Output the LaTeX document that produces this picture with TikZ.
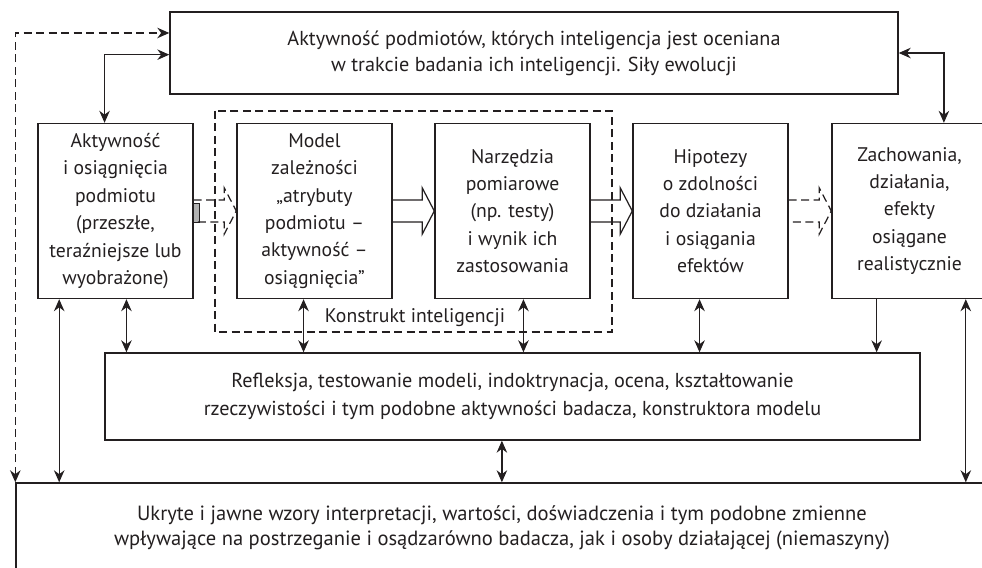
\documentclass[tikz,border=0pt]{standalone}
\usepackage{fontspec}
\setmainfont{PT Sans}
\usetikzlibrary{arrows.meta, calc, positioning}
\definecolor{inkgray}{HTML}{231F20}
\tikzset{
  box/.style={draw=inkgray, line width=0.8pt, minimum width=31mm, minimum height=35mm,
    align=center, inner sep=0pt, text=inkgray, font=\fontsize{11.2}{15.6}\selectfont},
  widebox/.style={draw=inkgray, line width=0.8pt, align=center, inner sep=0pt,
    text=inkgray},
  conn/.style={draw=inkgray, line width=0.7pt,
    {Stealth[length=2.4mm,width=2.1mm]}-{Stealth[length=2.4mm,width=2.1mm]}},
  oneway/.style={draw=inkgray, line width=0.7pt, -{Stealth[length=2.4mm,width=2.1mm]}},
  dashline/.style={dash pattern=on 1.6mm off 0.9mm},
  hollow/.style={draw=inkgray, line width=0.7pt, line join=miter},
}
% outlined block arrow from #2 to #3
\newcommand{\blockarrow}[3][]{%
  \draw[hollow,#1] ($(#2)+(0,-11)$) -- ($(#3)+(-12,-11)$) -- ($(#3)+(-12,-23)$) -- (#3)
    -- ($(#3)+(-12,23)$) -- ($(#3)+(-12,11)$) -- ($(#2)+(0,11)$);}

\begin{document}
\begin{tikzpicture}[x=0.2mm, y=-0.2mm]
  \clip (0,0) rectangle (982,568);

  % big boxes
  \node[widebox, minimum width=145.6mm, minimum height=16.4mm,
    font=\fontsize{11.5}{14.8}\selectfont] (top) at (534,53)
    {Aktywność podmiotów, których inteligencja jest oceniana\\
     w trakcie badania ich inteligencji. Siły ewolucji};
  \node[widebox, minimum width=163mm, minimum height=17.4mm,
    font=\fontsize{11.5}{15.9}\selectfont] (refl) at (512.5,396.5)
    {Refleksja, testowanie modeli, indoktrynacja, ocena, kształtowanie\\
     rzeczywistości i tym podobne aktywności badacza, konstruktora modelu};
  \node[widebox, minimum width=194.4mm, minimum height=18mm,
    font=\fontsize{11.7}{14.4}\selectfont] (ukr) at (502,528)
    {Ukryte i jawne wzory interpretacji, wartości, doświadczenia i tym podobne zmienne\\
     wpływające na postrzeganie i osądzarówno badacza, jak i osoby działającej (niemaszyny)};

  % middle row
  \node[box] (akt) at (115.5,211)
    {Aktywność\\ i osiągnięcia\\ podmiotu\\ (przeszłe,\\ teraźniejsze lub\\ wyobrażone)};
  \node[box] (model) at (314.5,211)
    {Model\\ zależności\\ „atrybuty\\ podmiotu --\\ aktywność --\\ osiągnięcia”};
  \node[box] (narz) at (512.5,211)
    {Narzędzia\\ pomiarowe\\ (np. testy)\\ i wynik ich\\ zastosowania};
  \node[box] (hipo) at (710.5,211)
    {Hipotezy\\ o zdolności\\ do działania\\ i osiągania\\ efektów};
  \node[box] (zach) at (909.5,211)
    {Zachowania,\\ działania,\\ efekty\\ osiągane\\ realistycznie};

  % construct frame
  \draw[draw=inkgray, line width=0.7pt, dashline] (215,111) rectangle (612,332);
  \node[text=inkgray, font=\fontsize{11.2}{12}\selectfont] (kons) at (415,318)
    {Konstrukt inteligencji};

  % block arrows
  \draw[draw=inkgray, fill=gray!60, line width=0.5pt] (akt.east) ++(0,-8) rectangle ++(6,19);
  \blockarrow[dashline]{akt.east}{model.west}
  \blockarrow{model.east}{narz.west}
  \blockarrow{narz.east}{hipo.west}
  \blockarrow[dashline]{hipo.east}{zach.west}

  % links to the top box
  \coordinate (tdash) at ($(top.north west)!0.26!(top.south west)$);
  \coordinate (tleft) at ($(top.north west)!0.52!(top.south west)$);
  \coordinate (aktn) at ($(akt.north west)!0.43!(akt.north east)$);
  \coordinate (zachn) at ($(zach.north west)!0.72!(zach.north east)$);
  \draw[conn, dashline] (ukr.north west) |- (tdash);
  \draw[conn] (aktn) |- (tleft);
  \draw[conn] (top.east) -| (zachn);

  % links downwards
  \foreach \src/\f/\dst/\sty in {akt/0.14/ukr/conn, akt/0.57/refl/conn,
      model/0.43/refl/conn, narz/0.57/refl/conn, hipo/0.43/refl/conn,
      zach/0.29/refl/oneway, zach/0.86/ukr/conn, refl/0.487/ukr/conn}{
    \coordinate (p) at ($(\src.south west)!\f!(\src.south east)$);
    \draw[\sty] (p) -- (p |- \dst.north);
  }
\end{tikzpicture}
\end{document}
